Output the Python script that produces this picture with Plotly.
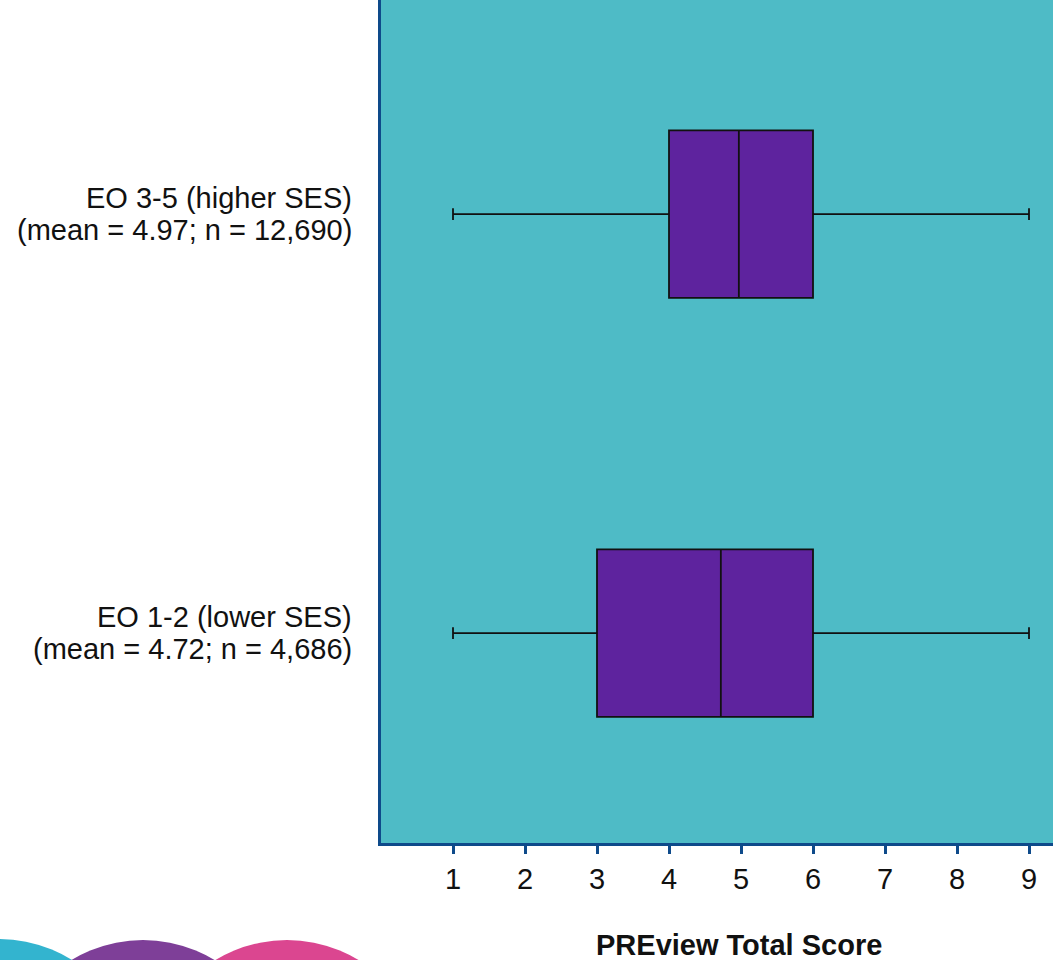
import plotly.graph_objects as go

# ---- data ----
categories = ["EO 1-2 (lower SES)", "EO 3-5 (higher SES)"]
label_line2 = ["(mean = 4.72; n = 4,686)", "(mean = 4.97; n = 12,690)"]
lower_fence = [1, 1]
q1_vals = [3, 4]
mean_vals = [4.72, 4.97]
q3_vals = [6, 6]
upper_fence = [9, 9]
x_ticks = [1, 2, 3, 4, 5, 6, 7, 8, 9]
x_title = "PREview Total Score"

W, H = 1053, 960
L, R, T, B = 381, 0, 0, 117
PW, PH = W - L - R, H - T - B

def px_x(px):
    return (px - L) / PW

def px_y(py):
    return (H - B - py) / PH

FONT = "Liberation Sans, Arial, sans-serif"
TEAL = "#4EBBC6"
PURPLE = "#5E239E"
AXIS = "#0E4A8A"

fig = go.Figure()
fig.add_trace(go.Box(
    y=categories,
    lowerfence=lower_fence,
    q1=q1_vals,
    median=mean_vals,
    q3=q3_vals,
    upperfence=upper_fence,
    orientation="h",
    fillcolor=PURPLE,
    line=dict(color="#111111", width=1.8),
    width=0.4,
    whiskerwidth=0.07,
    boxpoints=False,
    showlegend=False,
    hoverinfo="skip",
))

annotations = []
for cat, l2 in zip(categories, label_line2):
    annotations.append(dict(text=cat, xref="paper", yref="y", x=0, y=cat,
                            xanchor="right", yanchor="middle", xshift=-27, yshift=16,
                            showarrow=False, font=dict(family=FONT, size=29, color="#111111")))
    annotations.append(dict(text=l2, xref="paper", yref="y", x=0, y=cat,
                            xanchor="right", yanchor="middle", xshift=-27, yshift=-16,
                            showarrow=False, font=dict(family=FONT, size=29, color="#111111")))
annotations.append(dict(text="<b>" + x_title + "</b>", xref="paper", yref="paper",
                        x=px_x(739), y=px_y(945), xanchor="center", yanchor="middle",
                        showarrow=False, font=dict(family=FONT, size=29, color="#111111")))

# decorative logo circles at bottom-left
shapes = []
r = 138
for cx, cy, col in [(-1, 1077, "#33B4CF"), (143, 1078, "#7E3F98"), (287, 1078, "#DB4690")]:
    shapes.append(dict(type="circle", xref="paper", yref="paper",
                       x0=px_x(cx - r), x1=px_x(cx + r), y0=px_y(cy + r), y1=px_y(cy - r),
                       fillcolor=col, line=dict(width=0), layer="above"))

fig.update_layout(
    width=W, height=H,
    margin=dict(l=L, r=R, t=T, b=B),
    paper_bgcolor="white",
    plot_bgcolor=TEAL,
    font=dict(family=FONT, size=29, color="#111111"),
    annotations=annotations,
    shapes=shapes,
    xaxis=dict(range=[0, 9.3333], tickmode="array", tickvals=x_ticks,
               ticktext=[str(t) for t in x_ticks],
               showgrid=False, zeroline=False, showline=True, linecolor=AXIS, linewidth=3,
               ticks="outside", ticklen=8, tickwidth=3, tickcolor=AXIS,
               tickfont=dict(family=FONT, size=29, color="#111111")),
    yaxis=dict(type="category", categoryorder="array", categoryarray=categories,
               range=[-0.501, 1.511], showticklabels=False, showgrid=False, zeroline=False,
               showline=True, linecolor=AXIS, linewidth=3, ticks=""),
)

fig.write_html("out.html",
               config={"displayModeBar": False},
               post_script="document.body.style.margin='0';document.body.style.overflow='hidden';")
